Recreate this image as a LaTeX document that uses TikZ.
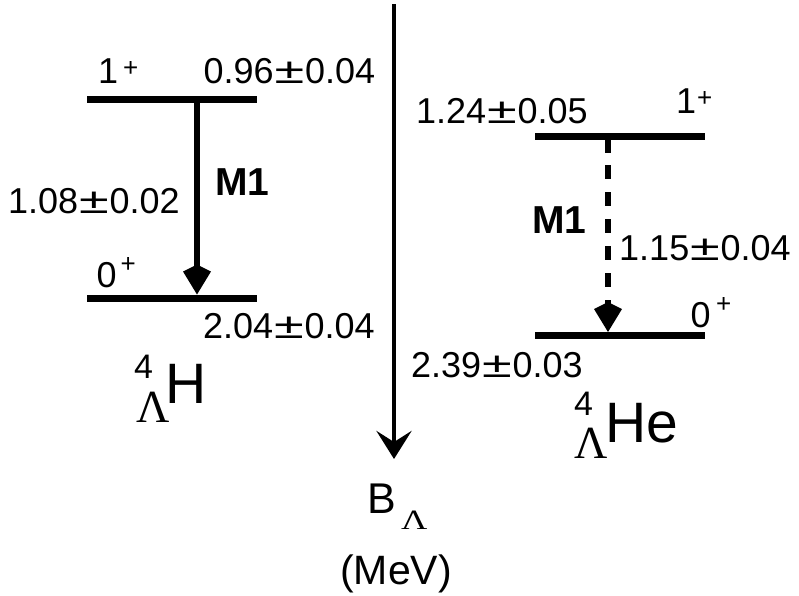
\documentclass[tikz,border=0pt]{standalone}
\usepackage{fontspec}
\usepackage{graphicx}
\setmainfont{Liberation Sans}
\newfontfamily\serifL{Liberation Serif}
\usetikzlibrary{arrows.meta}
\newcommand{\pmx}{\hspace{0.8pt}\scalebox{1.5}[1.0]{±}\hspace{0.8pt}}
\newcommand{\supp}[2]{\raisebox{#1}{\hspace{#2}\fontsize{26}{26}\selectfont +}}
\tikzset{
  lab/.style={anchor=base west, inner sep=0pt, font=\fontsize{36}{36}\selectfont},
  boldlab/.style={anchor=base west, inner sep=0pt, font=\fontsize{39}{39}\selectfont\bfseries},
  level/.style={line width=7pt},
  trans/.style={line width=6.5pt, -{Kite[length=30pt 0 0,width=28pt 0 0,inset=7pt 0]}},
  axis/.style={line width=4.5pt, -{Stealth[length=28pt 0 0,width=35pt 0 0,inset=11pt 0]}},
  big/.style={anchor=base west, inner sep=0pt, font=\fontsize{57}{57}\selectfont},
  mass/.style={anchor=base west, inner sep=0pt, font=\fontsize{34}{34}\selectfont},
  lam/.style={anchor=base west, inner sep=0pt, font=\fontsize{46}{46}\selectfont\serifL}
}
\begin{document}
\begin{tikzpicture}[x=1pt,y=-1pt]
\useasboundingbox (0,0) rectangle (799,595);
% central axis
\coordinate (ax0) at (394,4);
\coordinate (ax1) at (394,459);
\draw[axis] (ax0) -- (ax1);
\node[anchor=base west, inner sep=0pt, font=\fontsize{43}{43}\selectfont] (B) at (367,513) {B};
\node[anchor=base west, inner sep=0pt, font=\fontsize{28}{28}\selectfont\serifL] (BL) at (401,529) {\scalebox{1.3}[1]{Λ}};
\node[anchor=base west, inner sep=0pt, font=\fontsize{41}{41}\selectfont] (mev) at (340,584) {(MeV)};
% left levels
\coordinate (LUa) at (87,99.5);
\coordinate (LUb) at (257,99.5);
\coordinate (LDa) at (87,298);
\coordinate (LDb) at (257,298);
\draw[level] (LUa) -- (LUb);
\draw[level] (LDa) -- (LDb);
\coordinate (LT0) at (197,99.5);
\coordinate (LT1) at (197,294.5);
\draw[trans] (LT0) -- (LT1);
\node[lab] (l1p) at (98,83) {1\supp{6.5pt}{5pt}};
\node[lab] (l096) at (203.5,83) {0.96\pmx 0.04};
\node[boldlab] (lm1) at (215,195) {M1};
\node[lab] (l108) at (8,213) {1.08\pmx 0.02};
\node[lab] (l0p) at (96.5,287) {0\supp{14.5pt}{4pt}};
\node[lab] (l204) at (203,338) {2.04\pmx 0.04};
\node[mass] (l4) at (134,378) {4};
\node[big] (lH) at (165,403) {H};
\node[lam] (lLam) at (136,422) {Λ};
% right levels
\coordinate (RUa) at (535,136);
\coordinate (RUb) at (705,136);
\coordinate (RDa) at (535,335.5);
\coordinate (RDb) at (705,335.5);
\draw[level] (RUa) -- (RUb);
\draw[level] (RDa) -- (RDb);
\coordinate (RT0) at (608,136);
\coordinate (RT1) at (608,332);
\draw[trans, dash pattern=on 17pt off 12pt on 14pt off 13pt on 14pt off 13pt on 14pt off 13pt on 14pt off 13pt on 14pt off 13pt on 14pt off 13pt] (RT0) -- (RT1);
\node[lab] (r124) at (416,123) {1.24\pmx 0.05};
\node[lab] (r1p) at (676,113) {1\supp{6.5pt}{1pt}};
\node[boldlab] (rm1) at (532,233) {M1};
\node[lab] (r115) at (619,260) {1.15\pmx 0.04};
\node[lab] (r0p) at (690.5,327) {0\supp{14.5pt}{5.5pt}};
\node[lab] (r239) at (411,377) {2.39\pmx 0.03};
\node[mass] (r4) at (574,415) {4};
\node[big] (rHe) at (605,442) {He};
\node[lam] (rLam) at (574,458) {Λ};
\end{tikzpicture}
\end{document}
